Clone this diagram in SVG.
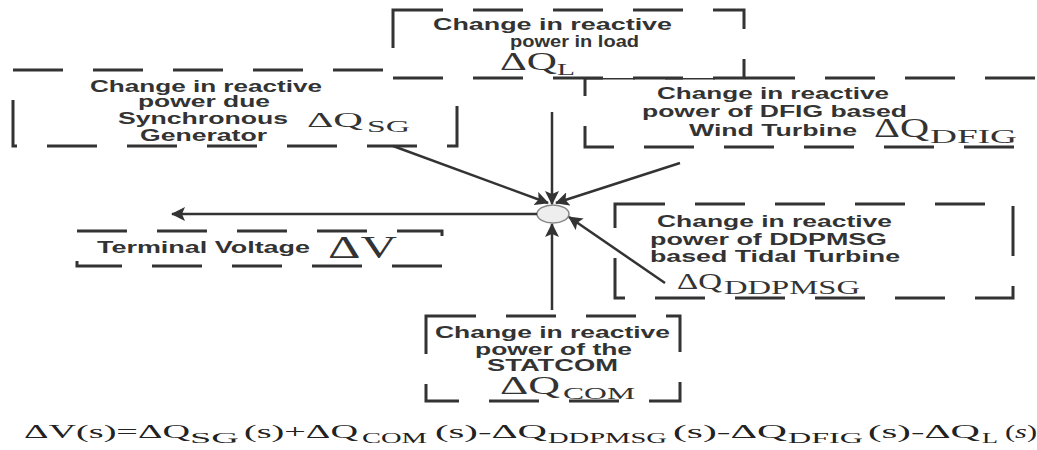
<svg xmlns="http://www.w3.org/2000/svg" width="1037" height="450" viewBox="0 0 1037 450">
<style>
.box{fill:none;stroke:#333;stroke-width:3;stroke-dasharray:50 30}
.boxw{fill:#fff;stroke:#333;stroke-width:3;stroke-dasharray:50 30}
.lbl{font-family:"Liberation Sans",Arial,sans-serif;font-weight:bold;font-size:16px;fill:#333}
.sym{font-family:"Liberation Serif","Times New Roman",serif;fill:#333}
.con{fill:none;stroke:#333;stroke-width:2.5}
.eq{font-family:"Liberation Serif","Times New Roman",serif;fill:#222;font-size:19px}
</style>
<defs>
<marker id="ah" viewBox="0 0 14 14" refX="13" refY="7" markerWidth="14" markerHeight="14" markerUnits="userSpaceOnUse" orient="auto">
<path d="M0,0 L14,7 L0,14 L3,7 z" fill="#333"/>
</marker>
</defs>
<rect width="1037" height="450" fill="#fff"/>

<g id="sg">
<rect class="box" x="13" y="70" width="444" height="76"/>
<text class="lbl" x="90" y="92" textLength="232" lengthAdjust="spacingAndGlyphs">Change in reactive</text>
<text class="lbl" x="138" y="107" textLength="132" lengthAdjust="spacingAndGlyphs">power due</text>
<text class="lbl" x="118" y="124" textLength="170" lengthAdjust="spacingAndGlyphs">Synchronous</text>
<text class="lbl" x="140" y="141" textLength="127" lengthAdjust="spacingAndGlyphs">Generator</text>
<text class="sym" y="127"><tspan x="307" font-size="22" textLength="56" lengthAdjust="spacingAndGlyphs">ΔQ</tspan><tspan x="367" y="132" font-size="17" textLength="43" lengthAdjust="spacingAndGlyphs">SG</tspan></text>
</g>

<g id="dfig">
<rect class="boxw" x="585" y="78" width="460" height="69"/>
<text class="lbl" x="657" y="99" textLength="232" lengthAdjust="spacingAndGlyphs">Change in reactive</text>
<text class="lbl" x="642" y="117" textLength="265" lengthAdjust="spacingAndGlyphs">power of DFIG based</text>
<text class="lbl" x="689" y="136" textLength="168" lengthAdjust="spacingAndGlyphs">Wind Turbine</text>
<text class="sym" y="137"><tspan x="874" font-size="27" textLength="55" lengthAdjust="spacingAndGlyphs">ΔQ</tspan><tspan x="930" y="143" font-size="19" textLength="87" lengthAdjust="spacingAndGlyphs">DFIG</tspan></text>
</g>

<g id="load">
<rect class="boxw" x="393" y="10" width="351" height="68"/>
<text class="lbl" x="433" y="30" textLength="239" lengthAdjust="spacingAndGlyphs">Change in reactive</text>
<text class="lbl" x="510" y="47" textLength="129" lengthAdjust="spacingAndGlyphs">power in load</text>
<text class="sym" y="70"><tspan x="500" font-size="26" textLength="57" lengthAdjust="spacingAndGlyphs">ΔQ</tspan><tspan x="557" y="75" font-size="17" textLength="18" lengthAdjust="spacingAndGlyphs">L</tspan></text>
</g>

<g id="terminal">
<rect class="box" x="77" y="231" width="365" height="35"/>
<text class="lbl" x="97" y="253" textLength="213" lengthAdjust="spacingAndGlyphs">Terminal Voltage</text>
<text class="sym" x="328" y="258" font-size="31" textLength="69" lengthAdjust="spacingAndGlyphs">ΔV</text>
</g>

<g id="ddpmsg">
<rect class="box" x="615" y="204" width="398" height="94"/>
<text class="lbl" x="657" y="227" textLength="235" lengthAdjust="spacingAndGlyphs">Change in reactive</text>
<text class="lbl" x="650" y="245" textLength="237" lengthAdjust="spacingAndGlyphs">power of DDPMSG</text>
<text class="lbl" x="650" y="262" textLength="250" lengthAdjust="spacingAndGlyphs">based Tidal Turbine</text>
<text class="sym" y="289"><tspan x="677" font-size="23" textLength="45" lengthAdjust="spacingAndGlyphs">ΔQ</tspan><tspan x="724" y="294" font-size="18" textLength="136" lengthAdjust="spacingAndGlyphs">DDPMSG</tspan></text>
</g>

<g id="statcom">
<rect class="box" x="426" y="316" width="254" height="85"/>
<text class="lbl" x="435" y="338" textLength="235" lengthAdjust="spacingAndGlyphs">Change in reactive</text>
<text class="lbl" x="475" y="355" textLength="157" lengthAdjust="spacingAndGlyphs">power of the</text>
<text class="lbl" x="487" y="371" textLength="131" lengthAdjust="spacingAndGlyphs">STATCOM</text>
<text class="sym" y="394"><tspan x="500" font-size="25" textLength="60" lengthAdjust="spacingAndGlyphs">ΔQ</tspan><tspan x="563" y="399" font-size="17" textLength="72" lengthAdjust="spacingAndGlyphs">COM</tspan></text>
</g>

<g id="junction">
<ellipse cx="553" cy="214" rx="16" ry="9" fill="#eeeeee" stroke="#888" stroke-width="1.5"/>
</g>

<g id="connectors">
<line class="con" x1="552" y1="112" x2="552" y2="204" marker-end="url(#ah)"/>
<line class="con" x1="393" y1="146" x2="548" y2="203" marker-end="url(#ah)"/>
<line class="con" x1="680" y1="163" x2="556" y2="203" marker-end="url(#ah)"/>
<line class="con" x1="665" y1="283" x2="569" y2="217" marker-end="url(#ah)"/>
<line class="con" x1="552" y1="310" x2="552" y2="224" marker-end="url(#ah)"/>
<line class="con" x1="537" y1="214" x2="172" y2="214" marker-end="url(#ah)"/>
</g>

<g id="equation">
<text class="eq" y="438"><tspan x="24" textLength="166" lengthAdjust="spacingAndGlyphs">ΔV(s)=ΔQ</tspan><tspan x="190" y="443" font-size="15" textLength="49" lengthAdjust="spacingAndGlyphs">SG</tspan><tspan x="244" y="438" textLength="114" lengthAdjust="spacingAndGlyphs">(s)+ΔQ</tspan><tspan x="362" y="443" font-size="15" textLength="65" lengthAdjust="spacingAndGlyphs">COM</tspan><tspan x="435" y="438" textLength="112" lengthAdjust="spacingAndGlyphs">(s)-ΔQ</tspan><tspan x="548" y="443" font-size="15" textLength="119" lengthAdjust="spacingAndGlyphs">DDPMSG</tspan><tspan x="673" y="438" textLength="114" lengthAdjust="spacingAndGlyphs">(s)-ΔQ</tspan><tspan x="788" y="443" font-size="15" textLength="75" lengthAdjust="spacingAndGlyphs">DFIG</tspan><tspan x="868" y="438" textLength="112" lengthAdjust="spacingAndGlyphs">(s)-ΔQ</tspan><tspan x="982" y="443" font-size="15" textLength="16" lengthAdjust="spacingAndGlyphs">L</tspan><tspan x="1005" y="438" textLength="32" lengthAdjust="spacingAndGlyphs">(<tspan font-style="italic">s</tspan>)</tspan></text>
</g>
</svg>
